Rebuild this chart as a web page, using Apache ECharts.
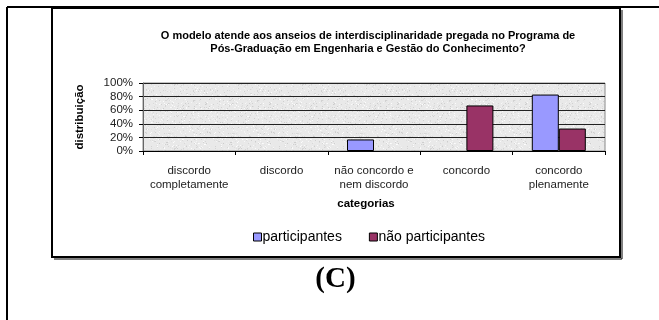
<!DOCTYPE html>
<html>
<head>
<meta charset="utf-8">
<script src="https://cdn.jsdelivr.net/npm/echarts@6/dist/echarts.min.js"></script>
<style>
  html, body { margin: 0; padding: 0; background: #fff; }
  #main { width: 659px; height: 320px; }
</style>
</head>
<body>
<div id="main"></div>
<script>
var categorias = ['discordo\ncompletamente', 'discordo', 'não concordo e\nnem discordo', 'concordo', 'concordo\nplenamente'];
var participantes = [0, 0, 17, 0, 83];
var naoParticipantes = [0, 0, 0, 67, 33];
var yTicks = [0, 20, 40, 60, 80, 100];

// textura cinza clara do fundo do gráfico
var tex = document.createElement('canvas');
tex.width = 64; tex.height = 64;
var tctx = tex.getContext('2d');
tctx.fillStyle = '#e9e9e9';
tctx.fillRect(0, 0, 64, 64);
var seed = 7;
function rnd() { seed = (seed * 16807) % 2147483647; return seed / 2147483647; }
for (var i = 0; i < 900; i++) {
    var g = Math.floor(205 + rnd() * 50);
    tctx.fillStyle = 'rgb(' + g + ',' + g + ',' + g + ')';
    tctx.fillRect(Math.floor(rnd() * 64), Math.floor(rnd() * 64), 1, 1);
}

// zero = sem barra
function semZero(arr) { return arr.map(function (v) { return v === 0 ? '-' : v; }); }

var myChart = echarts.init(document.getElementById('main'));

var option = {
    backgroundColor: '#fff',
    animation: false,
    title: {
        text: 'O modelo atende aos anseios de interdisciplinaridade pregada no Programa de\nPós-Graduação em Engenharia e Gestão do Conhecimento?',
        left: 363,
        top: 24,
        textAlign: 'center',
        textStyle: {
            fontFamily: 'Liberation Sans',
            fontSize: 11,
            fontWeight: 'bold',
            color: '#000',
            lineHeight: 13,
            align: 'center'
        }
    },
    legend: {
        top: 225,
        left: 248,
        itemWidth: 8,
        itemHeight: 8,
        itemGap: 27,
        icon: 'rect',
        textStyle: {fontFamily: 'Liberation Sans', fontSize: 14, color: '#000', padding: [0, 0, 0, -4]},
        data: [
            {name: 'participantes', itemStyle: {borderColor: '#000', borderWidth: 1}},
            {name: 'não participantes', itemStyle: {borderColor: '#000', borderWidth: 1}}
        ]
    },
    grid: {
        left: 143,
        top: 83,
        width: 462,
        height: 68,
        show: true,
        backgroundColor: {image: tex, repeat: 'repeat'},
        borderColor: '#888',
        borderWidth: 1
    },
    xAxis: {
        type: 'category',
        data: categorias,
        name: 'categorias',
        nameLocation: 'middle',
        nameGap: 47,
        nameTextStyle: {fontFamily: 'Liberation Sans', fontSize: 11.5, fontWeight: 'bold', color: '#000', padding: [0, 16, 0, 0]},
        axisLine: {lineStyle: {color: '#000', width: 1}},
        axisTick: {show: true, length: 4, lineStyle: {color: '#000'}},
        axisLabel: {
            fontFamily: 'Liberation Sans',
            fontSize: 11.5,
            color: '#222',
            margin: 13,
            lineHeight: 14,
            interval: 0
        }
    },
    yAxis: {
        type: 'value',
        min: 0,
        max: 100,
        interval: 20,
        name: 'distribuição',
        nameLocation: 'middle',
        nameRotate: 90,
        nameGap: 57,
        nameTextStyle: {fontFamily: 'Liberation Sans', fontSize: 11.5, fontWeight: 'bold', color: '#000'},
        axisLine: {show: true, lineStyle: {color: '#666'}},
        axisTick: {show: true, length: 4, lineStyle: {color: '#000'}},
        axisLabel: {
            fontFamily: 'Liberation Sans',
            fontSize: 11.5,
            color: '#222',
            margin: 10,
            formatter: function (v) { return yTicks.indexOf(v) >= 0 ? v + '%' : ''; }
        },
        splitLine: {show: true, lineStyle: {color: '#222', width: 1}}
    },
    series: [
        {
            name: 'participantes',
            type: 'bar',
            data: semZero(participantes),
            barWidth: 27,
            barGap: '0%',
            itemStyle: {color: '#9999ff', borderColor: '#000', borderWidth: 1}
        },
        {
            name: 'não participantes',
            type: 'bar',
            data: semZero(naoParticipantes),
            barWidth: 27,
            barGap: '0%',
            itemStyle: {color: '#993366', borderColor: '#000', borderWidth: 1}
        }
    ],
    graphic: [
        // moldura externa da página
        {type: 'line', shape: {x1: 7, y1: 7, x2: 659, y2: 7}, style: {stroke: '#000', lineWidth: 2}, silent: true},
        {type: 'line', shape: {x1: 7, y1: 7, x2: 7, y2: 320}, style: {stroke: '#000', lineWidth: 2}, silent: true},
        // caixa do gráfico
        {type: 'rect', shape: {x: 52, y: 8, width: 568, height: 249}, style: {fill: null, stroke: '#000', lineWidth: 2}, silent: true},
        {type: 'line', shape: {x1: 622, y1: 10, x2: 622, y2: 259}, style: {stroke: '#000', lineWidth: 1}, silent: true},
        {type: 'line', shape: {x1: 54, y1: 259, x2: 622, y2: 259}, style: {stroke: '#000', lineWidth: 1}, silent: true},
        {
            type: 'text',
            x: 335.5,
            y: 280,
            style: {
                text: '(C)',
                align: 'center',
                verticalAlign: 'middle',
                fontFamily: 'Liberation Serif',
                fontSize: 29,
                fontWeight: 'bold',
                fill: '#000'
            },
            silent: true
        }
    ]
};

myChart.setOption(option);
</script>
</body>
</html>
